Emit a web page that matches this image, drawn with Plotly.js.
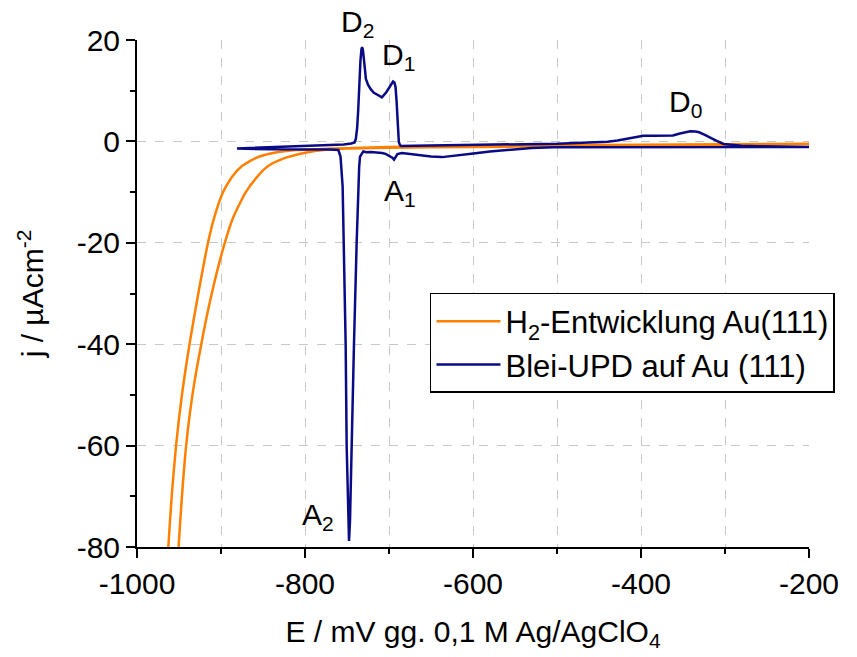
<!DOCTYPE html>
<html>
<head>
<meta charset="utf-8">
<script src="https://cdn.plot.ly/plotly-3.0.1.min.js"></script>
<style>
  html, body { margin: 0; padding: 0; background: #ffffff; }
  #chart { width: 857px; height: 657px; }
</style>
</head>
<body>
<div id="chart"></div>
<script>
// Hydrogen evolution on Au(111): potential (mV) and current density (µA/cm²)
// one closed sweep: flat region -> outer branch down -> turn -> inner branch up -> back
const h2E = [-200, -300, -400, -500, -600, -700, -750, -780, -810, -835, -857.5, -876,
  -887, -897.5, -908, -915.5, -927, -937.5, -946.5, -953.5, -958.7, -962.7, -966,
  -960, -954, -950.5, -946.5, -941.5, -934, -923.5, -911, -895.5, -885.5, -870.5,
  -857, -845, -826, -798, -778, -750, -700, -600, -500, -400, -300, -200];
const h2J = [-0.45, -0.55, -0.65, -0.75, -0.9, -1.1, -1.35, -1.5, -1.7, -2.2, -3.2, -5,
  -7, -10, -15, -20, -30, -40, -50, -60, -70, -80, -90,
  -95, -90, -80, -70, -60, -50, -40, -30, -20, -15, -10,
  -7, -5, -3.4, -2.2, -1.7, -1.4, -1.25, -1.1, -0.95, -0.8, -0.65, -0.55];

// Lead UPD on Au(111): anodic sweep (desorption peaks D2, D1, D0)
const updAnodicE = [-881, -865, -850, -820, -796, -775, -754, -745, -741, -739.5, -738, -736.7,
  -735.5, -734, -732.8, -732, -731, -729.8, -728.5, -727.5, -725, -721.8, -718, -713.8,
  -708.5, -703.2, -699, -697, -695.2, -693.5, -692.2, -691, -690, -689, -688.3, -687,
  -685.6, -670, -650, -636.7, -610, -583.5, -555, -530, -500, -477, -455, -440, -428,
  -418.6, -408, -397.3, -385, -370.7, -362, -354.8, -347, -341.5, -335, -330.9, -324,
  -317.6, -310, -301.6, -290, -280.3, -260, -237.8, -220, -200];
const updAnodicJ = [-1.4, -1.3, -1.2, -1.05, -0.95, -0.8, -0.6, -0.4, -0.2, 0.5, 2.5, 6,
  11, 15.9, 18.2, 18.6, 18.0, 16.5, 14, 12.3, 11.2, 10.3, 9.6, 9.2,
  8.7, 9.7, 10.9, 11.4, 11.8, 11.6, 10.7, 8, 4.1, 1.2, -0.1, -0.7,
  -0.9, -0.85, -0.8, -0.8, -0.75, -0.7, -0.65, -0.6, -0.45, -0.3, -0.15, -0.05, 0.2,
  0.5, 0.85, 1.1, 1.1, 1.05, 1.15, 1.5, 1.85, 2.0, 1.95, 1.8, 1.3,
  0.7, 0.1, -0.5, -0.75, -0.85, -0.95, -1.0, -1.0, -1.0];

// Lead UPD on Au(111): cathodic sweep (adsorption peaks A1, A2)
const updCathodicE = [-200, -250, -318, -380, -424, -470, -503.7, -530, -557, -580, -599.5,
  -620, -636.7, -650, -663, -675, -684.6, -690, -692, -694, -696, -700.5, -704, -708.5,
  -715, -721.8, -727, -730.6, -733, -734.5, -735.5, -736.5, -738.5, -741.7, -744, -746.4,
  -747.6, -748.8, -750.4, -751.6, -753.6, -755.2, -757.7, -760.3, -770, -800, -840, -881];
const updCathodicJ = [-1.1, -1.1, -1.1, -1.1, -1.1, -1.1, -1.15, -1.3, -1.6, -2.0, -2.4,
  -2.8, -3.1, -3.0, -2.7, -2.45, -2.3, -2.5, -3.1, -3.6, -3.2, -2.7, -2.45, -2.3,
  -2.15, -2.1, -2.15, -2.0, -2.6, -3.0, -5.0, -8.9, -20, -40, -60, -74.7,
  -78.8, -71.4, -60, -40, -20, -8.9, -3.0, -1.7, -1.6, -1.6, -1.55, -1.4];

// Axis ticks (labels use a plain hyphen as minus sign)
const xTickVals = [-1000, -800, -600, -400, -200];
const xTickText = ['-1000', '-800', '-600', '-400', '-200'];
const yTickVals = [20, 0, -20, -40, -60, -80];
const yTickText = ['20', '0', '-20', '-40', '-60', '-80'];

// Peak labels
const peakNames = ['D<sub>2</sub>', 'D<sub>1</sub>', 'D<sub>0</sub>', 'A<sub>1</sub>', 'A<sub>2</sub>'];
const peakLabelE = [-738, -689, -347, -687, -784];
const peakLabelJ = [20, 16.7, 7.5, -10, -74];
const peakLabelShift = [17, 0, 0, 0, 0];

const seriesNames = ['H<sub>2</sub>-Entwicklung Au(111)', 'Blei-UPD auf Au (111)'];

const FONT = 'Liberation Sans, Arial, sans-serif';
const FS = 30;

const traces = [
  {
    x: h2E, y: h2J, type: 'scatter', mode: 'lines', name: seriesNames[0],
    line: { color: '#ff8000', width: 2.5, shape: 'spline', smoothing: 0.6 }
  },
  {
    x: updAnodicE.concat(updCathodicE), y: updAnodicJ.concat(updCathodicJ),
    type: 'scatter', mode: 'lines', name: seriesNames[1],
    line: { color: '#0a0a85', width: 2.5 }
  }
];

const annotations = peakNames.map((t, i) => ({
  x: peakLabelE[i], y: peakLabelJ[i], xref: 'x', yref: 'y', text: t,
  yshift: peakLabelShift[i],
  showarrow: false, font: { family: FONT, size: FS, color: '#000' }
}));

const gridStyle = { gridcolor: '#c8c8c8', griddash: 'dash', gridwidth: 1 };

const layout = {
  width: 857, height: 657,
  margin: { l: 137, r: 48, t: 40, b: 110 },
  paper_bgcolor: '#ffffff', plot_bgcolor: '#ffffff',
  font: { family: FONT, size: FS, color: '#000' },
  showlegend: true,
  legend: {
    x: 0.436, y: 0.501, xanchor: 'left', yanchor: 'top',
    bgcolor: '#ffffff', bordercolor: '#000', borderwidth: 1.5,
    font: { family: FONT, size: 31, color: '#000' },
    itemwidth: 64, tracegroupgap: 0
  },
  xaxis: Object.assign({
    range: [-1000, -200], tickmode: 'array', tickvals: xTickVals, ticktext: xTickText,
    showline: true, linecolor: '#000', linewidth: 2,
    ticks: 'outside', ticklen: 9, tickwidth: 2, tickcolor: '#000',
    showgrid: true, zeroline: false, mirror: false,
    tickfont: { family: FONT, size: FS },
    minor: Object.assign({ dtick: 100, tick0: -1000, ticks: 'outside', ticklen: 5, tickwidth: 2,
             tickcolor: '#000', showgrid: true }, gridStyle),
    title: { text: 'E / mV gg. 0,1 M Ag/AgClO<sub>4</sub>', font: { family: FONT, size: FS }, standoff: 22 }
  }, gridStyle),
  yaxis: Object.assign({
    range: [-80, 20], tickmode: 'array', tickvals: yTickVals, ticktext: yTickText,
    showline: true, linecolor: '#000', linewidth: 2,
    ticks: 'outside', ticklen: 9, tickwidth: 2, tickcolor: '#000',
    showgrid: true, zeroline: false, mirror: false,
    tickfont: { family: FONT, size: FS },
    minor: { dtick: 10, tick0: 0, ticks: 'outside', ticklen: 5, tickwidth: 2, tickcolor: '#000', showgrid: false },
    title: { text: 'j / µAcm<sup>-2</sup>', font: { family: FONT, size: FS }, standoff: 24 }
  }, gridStyle),
  annotations: annotations
};

Plotly.newPlot('chart', traces, layout, { displayModeBar: false, staticPlot: true });
</script>
</body>
</html>
